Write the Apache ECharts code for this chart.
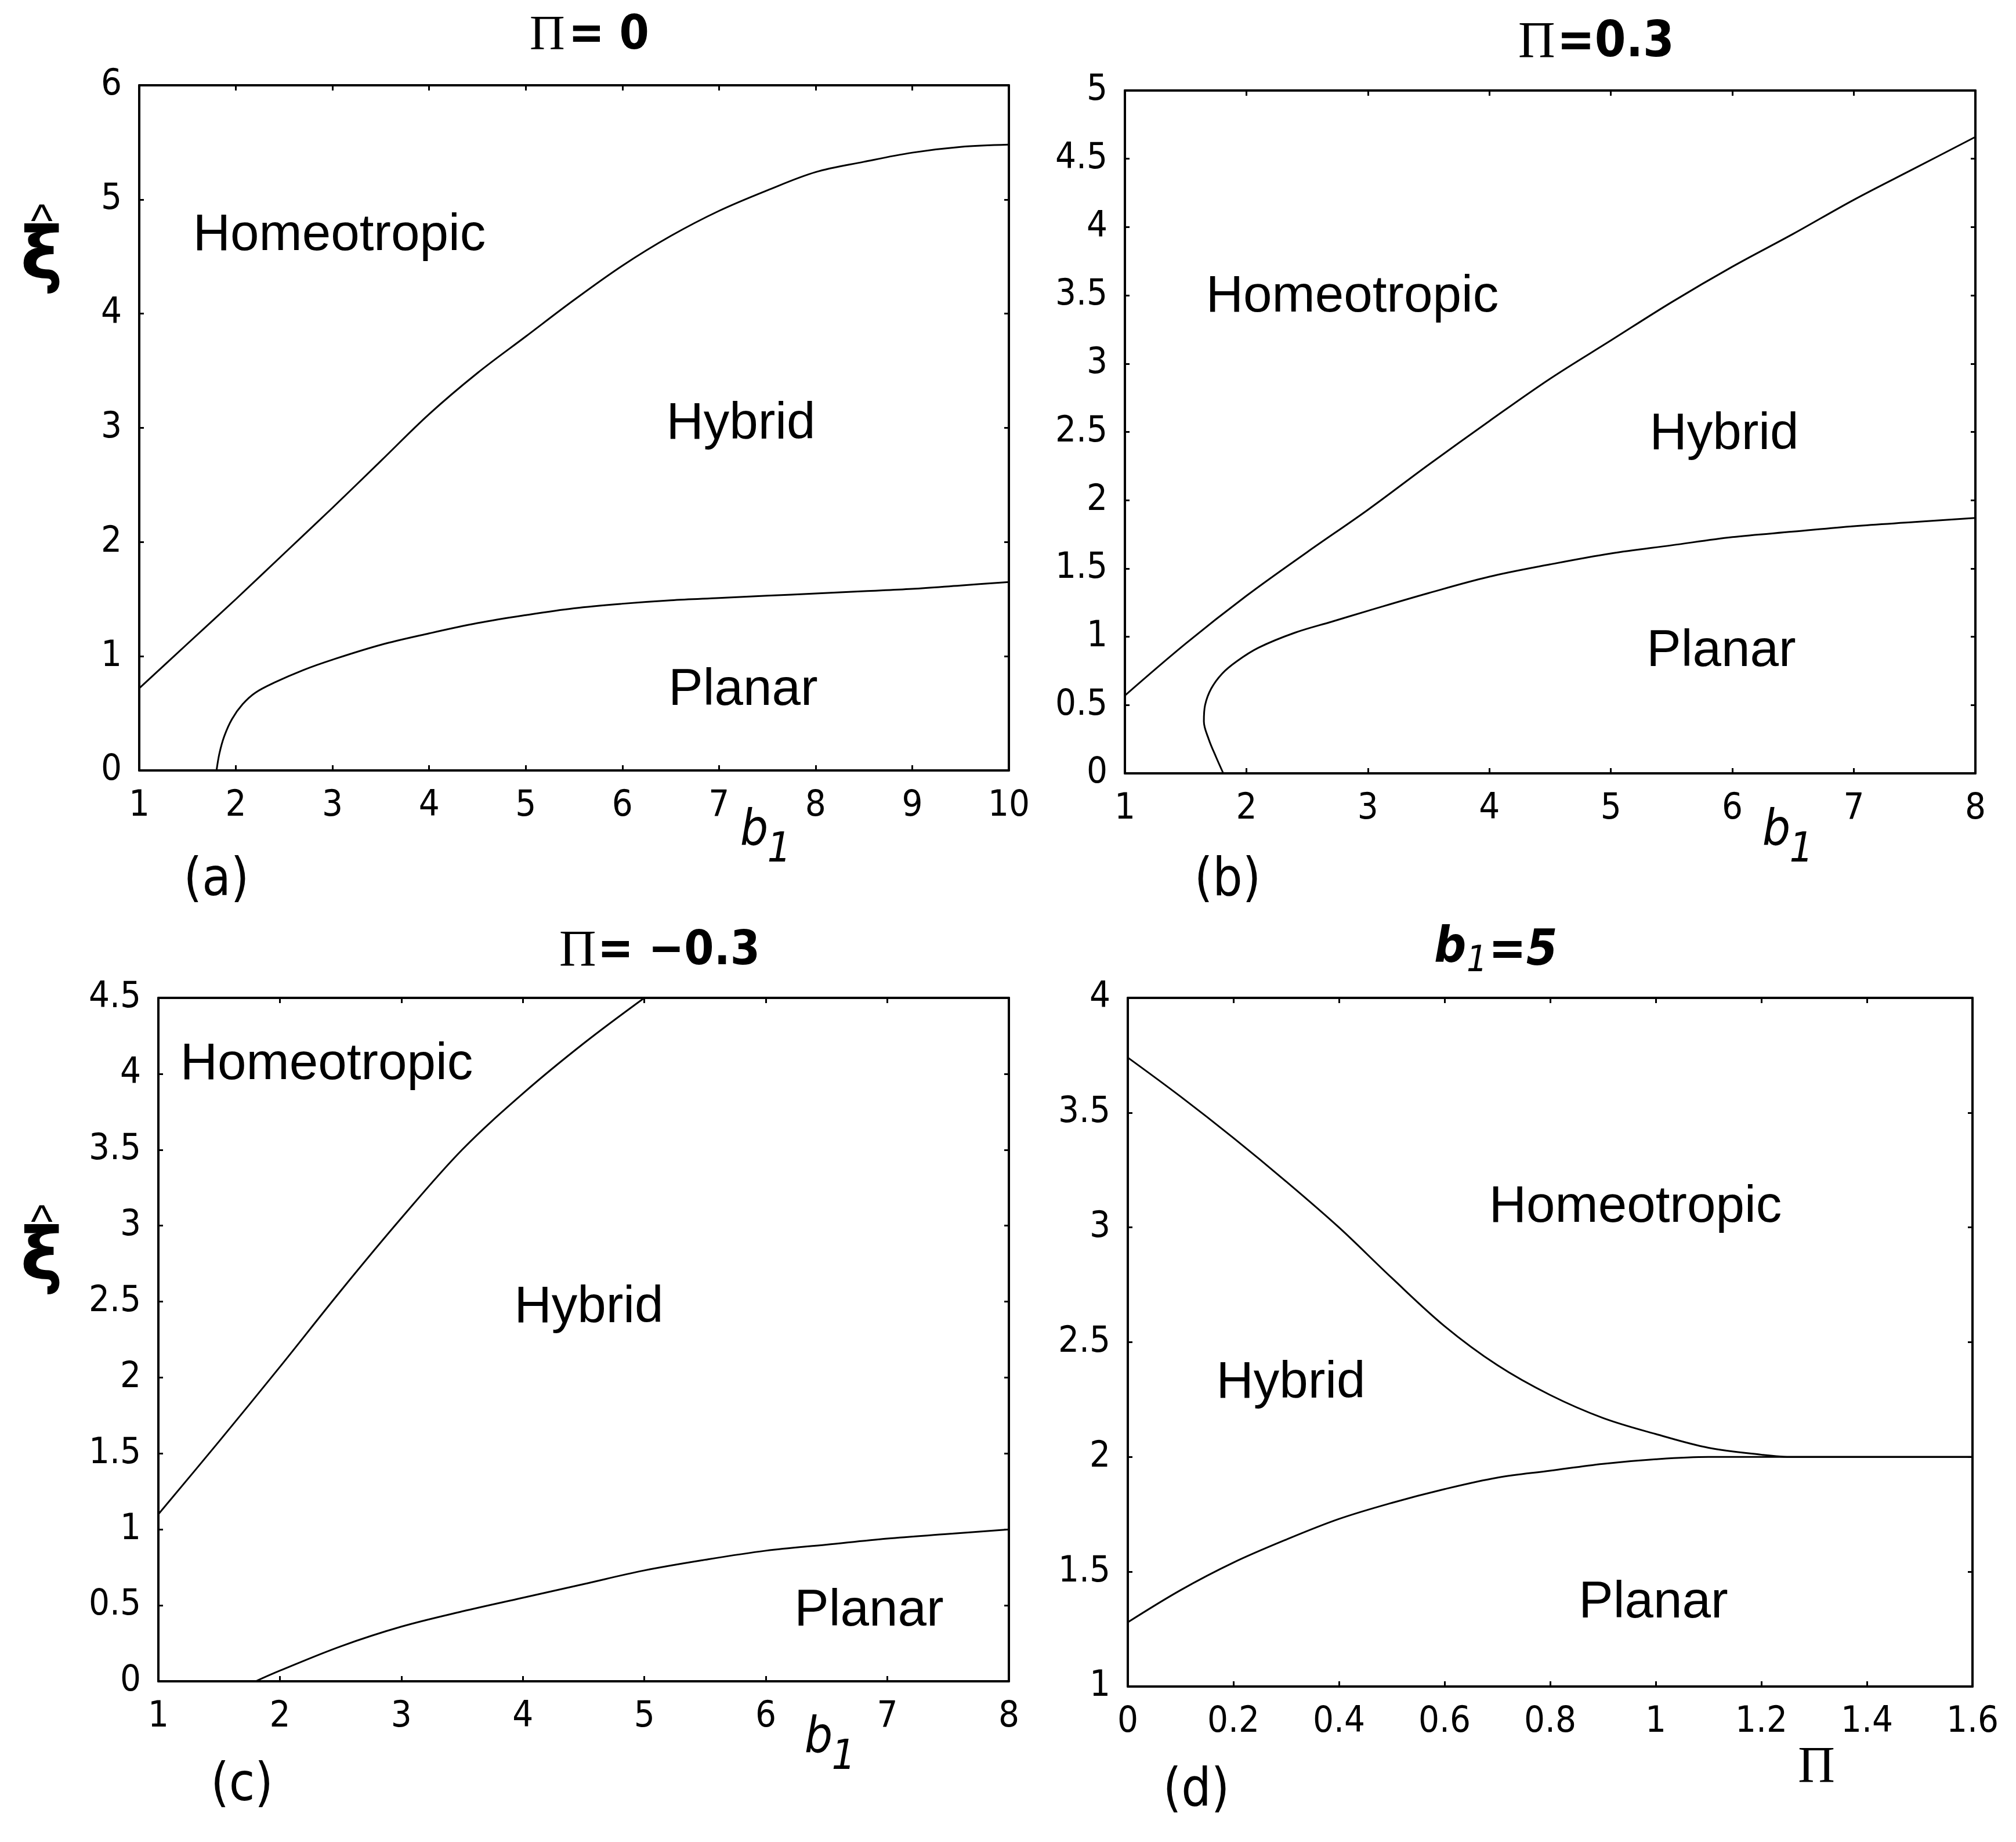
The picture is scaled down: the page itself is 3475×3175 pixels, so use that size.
<!DOCTYPE html>
<html><head><meta charset="utf-8">
<script src="https://cdn.jsdelivr.net/npm/echarts@6/dist/echarts.min.js"></script>
<style>html,body{margin:0;padding:0;background:#fff}#c{width:3475px;height:3175px}</style>
</head><body><div id="c"></div>
<script>
// ---------- data ----------
// (a) Pi = 0
const aXTicks = [1,2,3,4,5,6,7,8,9,10];
const aYTicks = [0,1,2,3,4,5,6];
const aUpperX = [1,1.5,2,2.5,3,3.5,4,4.5,5,5.5,6,6.5,7,7.5,8,8.5,9,9.5,10];
const aUpperY = [0.72,1.11,1.5,1.9,2.3,2.71,3.12,3.48,3.8,4.12,4.42,4.68,4.9,5.08,5.24,5.33,5.41,5.46,5.48];
const aLowerX = [1.8,1.83,1.88,1.96,2.07,2.2,2.4,2.7,3,3.5,4,4.5,5,5.5,6,6.5,7,7.5,8,8.5,9,9.5,10];
const aLowerY = [0,0.15,0.3,0.45,0.58,0.68,0.77,0.88,0.97,1.1,1.2,1.29,1.36,1.42,1.46,1.49,1.51,1.53,1.55,1.57,1.59,1.62,1.65];
// (b) Pi = 0.3
const bXTicks = [1,2,3,4,5,6,7,8];
const bYTicks = [0,0.5,1,1.5,2,2.5,3,3.5,4,4.5,5];
const bUpperX = [1,1.5,2,2.5,3,3.5,4,4.5,5,5.5,6,6.5,7,7.5,8];
const bUpperY = [0.57,0.95,1.3,1.62,1.93,2.26,2.58,2.89,3.17,3.45,3.71,3.95,4.2,4.43,4.66];
const bLowerX = [1.81,1.75,1.69,1.65,1.66,1.71,1.8,1.92,2.1,2.4,2.7,3,3.5,4,4.5,5,5.5,6,6.5,7,7.5,8];
const bLowerY = [0,0.12,0.25,0.38,0.5,0.62,0.73,0.82,0.92,1.03,1.11,1.19,1.32,1.44,1.53,1.61,1.67,1.73,1.77,1.81,1.84,1.87];
// (c) Pi = -0.3
const cXTicks = [1,2,3,4,5,6,7,8];
const cYTicks = [0,0.5,1,1.5,2,2.5,3,3.5,4,4.5];
const cUpperX = [1,1.5,2,2.5,3,3.5,4,4.5,5];
const cUpperY = [1.1,1.58,2.07,2.57,3.05,3.5,3.87,4.2,4.5];
const cLowerX = [1.8,2,2.5,3,3.5,4,4.5,5,5.5,6,6.5,7,7.5,8];
const cLowerY = [0,0.07,0.23,0.36,0.46,0.55,0.64,0.73,0.8,0.86,0.9,0.94,0.97,1.0];
// (d) b1 = 5
const dXTicks = [0,0.2,0.4,0.6,0.8,1,1.2,1.4,1.6];
const dYTicks = [1,1.5,2,2.5,3,3.5,4];
const dUpperX = [0,0.1,0.2,0.3,0.4,0.5,0.6,0.7,0.8,0.9,1.0,1.1,1.2,1.26,1.4,1.6];
const dUpperY = [3.74,3.57,3.39,3.2,3.0,2.78,2.57,2.4,2.27,2.17,2.1,2.04,2.01,2.0,2.0,2.0];
const dLowerX = [0,0.1,0.2,0.3,0.4,0.5,0.6,0.7,0.8,0.9,1.0,1.1,1.6];
const dLowerY = [1.28,1.42,1.54,1.64,1.73,1.8,1.86,1.91,1.94,1.97,1.99,2.0,2.0];

// ---------- layout ----------
const NARROW = "'Liberation Sans Narrow','DejaVu Sans Condensed','Liberation Sans',sans-serif";
const SANS = "'Liberation Sans',Arial,sans-serif";
const SERIF = "'Liberation Serif','DejaVu Serif',serif";
const DJ = "'DejaVu Sans',sans-serif";
const grids = [
  {left:240, top:147, width:1499, height:1181},
  {left:1939, top:156, width:1466, height:1177},
  {left:273, top:1720, width:1466, height:1178},
  {left:1944, top:1720, width:1456, height:1187}
];
const panels = [
  {xt:aXTicks, yt:aYTicks, curves:[[aUpperX,aUpperY],[aLowerX,aLowerY]]},
  {xt:bXTicks, yt:bYTicks, curves:[[bUpperX,bUpperY],[bLowerX,bLowerY]]},
  {xt:cXTicks, yt:cYTicks, curves:[[cUpperX,cUpperY],[cLowerX,cLowerY]]},
  {xt:dXTicks, yt:dYTicks, curves:[[dUpperX,dUpperY],[dLowerX,dLowerY]]}
];
const zip = (xs, ys) => xs.map((x,i)=>[x, ys[i]]);

const xAxis = [], yAxis = [], series = [];
panels.forEach((p, gi) => {
  const xmin = p.xt[0], xmax = p.xt[p.xt.length-1], xint = +(p.xt[1]-p.xt[0]).toFixed(6);
  const ymin = p.yt[0], ymax = p.yt[p.yt.length-1], yint = +(p.yt[1]-p.yt[0]).toFixed(6);
  ['bottom','top'].forEach((pos, k) => {
    xAxis.push({
      type:'value', gridIndex:gi, position:pos, min:xmin, max:xmax, interval:xint,
      axisLine:{show:true, onZero:false, lineStyle:{color:'#000', width:4}},
      axisTick:{show:true, inside:true, length:9, lineStyle:{color:'#000', width:3}},
      axisLabel:{show:k===0, margin:30, color:'#000', fontSize:63, fontFamily:NARROW, showMinLabel:true, showMaxLabel:true},
      splitLine:{show:false}
    });
  });
  ['left','right'].forEach((pos, k) => {
    yAxis.push({
      type:'value', gridIndex:gi, position:pos, min:ymin, max:ymax, interval:yint,
      axisLine:{show:true, onZero:false, lineStyle:{color:'#000', width:4}},
      axisTick:{show:true, inside:true, length:8, lineStyle:{color:'#000', width:3}},
      axisLabel:{show:k===0, margin:30, color:'#000', fontSize:63, fontFamily:NARROW, showMinLabel:true, showMaxLabel:true},
      splitLine:{show:false}
    });
  });
  p.curves.forEach(c => {
    series.push({
      type:'line', xAxisIndex:gi*2, yAxisIndex:gi*2, data:zip(c[0], c[1]),
      showSymbol:false, symbol:'none', smooth:0.35, silent:true,
      lineStyle:{color:'#000', width:3}
    });
  });
});

function T(text, x, y, size, family, extra) {
  return {type:'text', x:x, y:y, silent:true,
    style:Object.assign({text:text, fontSize:size, fontFamily:family, fill:'#000',
      align:'center', verticalAlign:'middle'}, extra||{})};
}
const L = {align:'left'};
const graphic = [
  // titles
  T('Π', 913, 63, 84, SERIF, L),
  T('= 0', 980, 63, 82, NARROW, {align:'left', fontWeight:'bold'}),
  T('Π', 2617, 75, 88, SERIF, L),
  T('=0.3', 2684, 75, 86, NARROW, {align:'left', fontWeight:'bold'}),
  T('Π', 964, 1641, 88, SERIF, L),
  T('= −0.3', 1030, 1641, 82, NARROW, {align:'left', fontWeight:'bold'}),
  T('b', 2472, 1636, 86, NARROW, {align:'left', fontStyle:'italic', fontWeight:'bold'}),
  T('1', 2528, 1658, 62, NARROW, {align:'left', fontStyle:'italic'}),
  T('=5', 2566, 1641, 86, NARROW, {align:'left', fontStyle:'italic', fontWeight:'bold'}),
  // region labels
  T('Homeotropic', 585, 406, 89, SANS),
  T('Hybrid', 1277, 731, 89, SANS),
  T('Planar', 1281, 1190, 89, SANS),
  T('Homeotropic', 2331, 512, 89, SANS),
  T('Hybrid', 2972, 749, 89, SANS),
  T('Planar', 2967, 1123, 89, SANS),
  T('Homeotropic', 563, 1835, 89, SANS),
  T('Hybrid', 1015, 2254, 89, SANS),
  T('Planar', 1498, 2777, 89, SANS),
  T('Homeotropic', 2819, 2081, 89, SANS),
  T('Hybrid', 2225, 2384, 89, SANS),
  T('Planar', 2850, 2763, 89, SANS),
  // axis names
  T('b', 1300, 1434, 85, NARROW, {fontStyle:'italic'}),
  T('1', 1343, 1466, 72, NARROW, {fontStyle:'italic'}),
  T('b', 3062, 1434, 85, NARROW, {fontStyle:'italic'}),
  T('1', 3105, 1466, 72, NARROW, {fontStyle:'italic'}),
  T('b', 1411, 2998, 85, NARROW, {fontStyle:'italic'}),
  T('1', 1454, 3030, 72, NARROW, {fontStyle:'italic'}),
  T('Π', 3131, 3048, 88, SERIF),
  // y-axis symbol (xi with hat)
  T('^', 72, 385, 80, SANS),
  T('ξ', 72, 448, 124, DJ, {fontWeight:'bold'}),
  T('^', 72, 2110, 80, SANS),
  T('ξ', 72, 2173, 124, DJ, {fontWeight:'bold'}),
  // panel letters
  T('(a)', 373, 1520, 90, NARROW),
  T('(b)', 2116, 1520, 90, NARROW),
  T('(c)', 417, 3080, 90, NARROW),
  T('(d)', 2062, 3089, 90, NARROW)
];

const chart = echarts.init(document.getElementById('c'), null, {renderer:'canvas'});
chart.setOption({
  animation:false,
  backgroundColor:'#fff',
  grid:grids.map(g => Object.assign({containLabel:false, show:false}, g)),
  xAxis:xAxis, yAxis:yAxis, series:series, graphic:graphic
});
</script></body></html>
